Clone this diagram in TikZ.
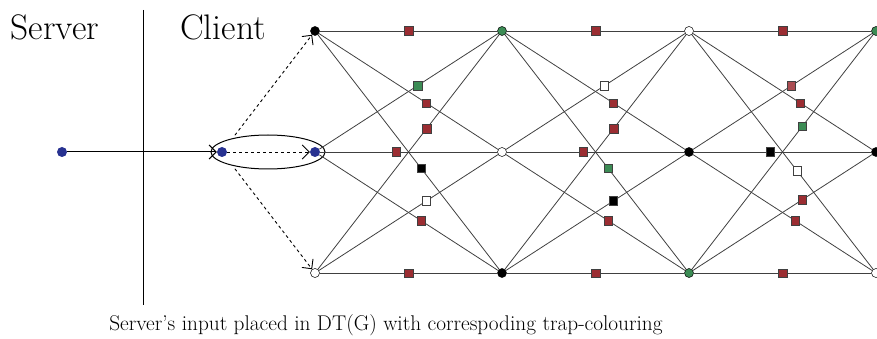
\documentclass[tikz,border=0pt]{standalone}
\usepackage{tikz}
\usetikzlibrary{arrows}
\usetikzlibrary{arrows.meta}
\usetikzlibrary{shapes.geometric}
\usetikzlibrary{positioning}
\definecolor{trapred}{RGB}{155,45,50}
\definecolor{trapgreen}{RGB}{60,140,85}
\definecolor{inblue}{RGB}{40,50,145}

\begin{document}
\begin{tikzpicture}[x=1pt,y=-1pt,>={Straight Barb[length=7pt,width=14pt]},
    main node/.style={circle,draw,inner sep=0pt,minimum size=9pt,line width=0.5pt},
    in node/.style={circle,fill=inblue,inner sep=0pt,minimum size=10pt},
    trap node/.style={rectangle,draw,inner sep=0pt,minimum size=8.5pt,line width=0.5pt},
    link/.style={-,line width=0.8pt,black!75},
    big label/.style={font=\fontsize{35.5}{40}\selectfont}]
   \useasboundingbox (0,0) rectangle (877,339);
   \begin{scope}
     \node[big label] (server) at (55,27) {Server};
     \node[big label] (client) at (223,27) {Client};
     \coordinate (septop) at (143,10);
     \coordinate (sepbot) at (143,305);
     \draw[line width=1pt] (septop) -- (sepbot);
     \node[in node] (s) at (62,152) {};
     \node[in node] (c) at (222,152) {};
     \node[draw,ellipse,line width=1pt,minimum width=114pt,minimum height=34pt] (grp) at (268,152) {};
      % columns of the graph
      \node[main node,fill=black] (t0) at (315,31) {};
      \node[in node] (m0) at (315,152) {};
      \node[main node,fill=white] (b0) at (315,273) {};
      \node[main node,fill=trapgreen] (t1) at (502,31) {};
      \node[main node,fill=white] (m1) at (502,152) {};
      \node[main node,fill=black] (b1) at (502,273) {};
      \node[main node,fill=white] (t2) at (689,31) {};
      \node[main node,fill=black] (m2) at (689,152) {};
      \node[main node,fill=trapgreen] (b2) at (689,273) {};
      \node[main node,fill=trapgreen] (t3) at (876,31) {};
      \node[main node,fill=black] (m3) at (876,152) {};
      \node[main node,fill=white] (b3) at (876,273) {};
      % input arrows
      \path[->,line width=1pt] (s) edge (c);
      \path[->,dashed,line width=0.9pt] (c) edge (m0);
      \path[->,dashed,line width=0.9pt,shorten <=16pt] (c) edge (t0);
      \path[->,dashed,line width=0.9pt,shorten <=16pt] (c) edge (b0);
      % first block
      \path[link] (t0) edge node[trap node,fill=trapred,pos=.5] {} (t1)
                       edge node[trap node,fill=trapred,pos=.6] {} (m1)
                       edge node[trap node,fill=black,pos=.57] {} (b1);
      \path[link] (m0) edge node[trap node,fill=trapgreen,pos=.55] {} (t1)
                       edge node[trap node,fill=trapred,pos=.43] {} (m1)
                       edge node[trap node,fill=trapred,pos=.57] {} (b1);
      \path[link] (b0) edge node[trap node,fill=trapred,pos=.6] {} (t1)
                       edge node[trap node,fill=white,pos=.6] {} (m1)
                       edge node[trap node,fill=trapred,pos=.5] {} (b1);
      % second block
      \path[link] (t1) edge node[trap node,fill=trapred,pos=.5] {} (t2)
                       edge node[trap node,fill=trapred,pos=.6] {} (m2)
                       edge node[trap node,fill=trapgreen,pos=.57] {} (b2);
      \path[link] (m1) edge node[trap node,fill=white,pos=.55] {} (t2)
                       edge node[trap node,fill=trapred,pos=.43] {} (m2)
                       edge node[trap node,fill=trapred,pos=.57] {} (b2);
      \path[link] (b1) edge node[trap node,fill=trapred,pos=.6] {} (t2)
                       edge node[trap node,fill=black,pos=.6] {} (m2)
                       edge node[trap node,fill=trapred,pos=.5] {} (b2);
      % third block
      \path[link] (t2) edge node[trap node,fill=trapred,pos=.5] {} (t3)
                       edge node[trap node,fill=trapred,pos=.6] {} (m3)
                       edge node[trap node,fill=white,pos=.58] {} (b3);
      \path[link] (m2) edge node[trap node,fill=trapred!85!white,pos=.55] {} (t3)
                       edge node[trap node,fill=black,pos=.43] {} (m3)
                       edge node[trap node,fill=trapred,pos=.57] {} (b3);
      \path[link] (b2) edge node[trap node,fill=trapgreen,pos=.61] {} (t3)
                       edge node[trap node,fill=trapred,pos=.61] {} (m3)
                       edge node[trap node,fill=trapred,pos=.5] {} (b3);
      \node[font=\fontsize{21.3}{25}\selectfont] (caption) at (386,325) {Server's input placed in DT(G) with correspoding trap-colouring};
    \end{scope}
  \end{tikzpicture}
\end{document}
